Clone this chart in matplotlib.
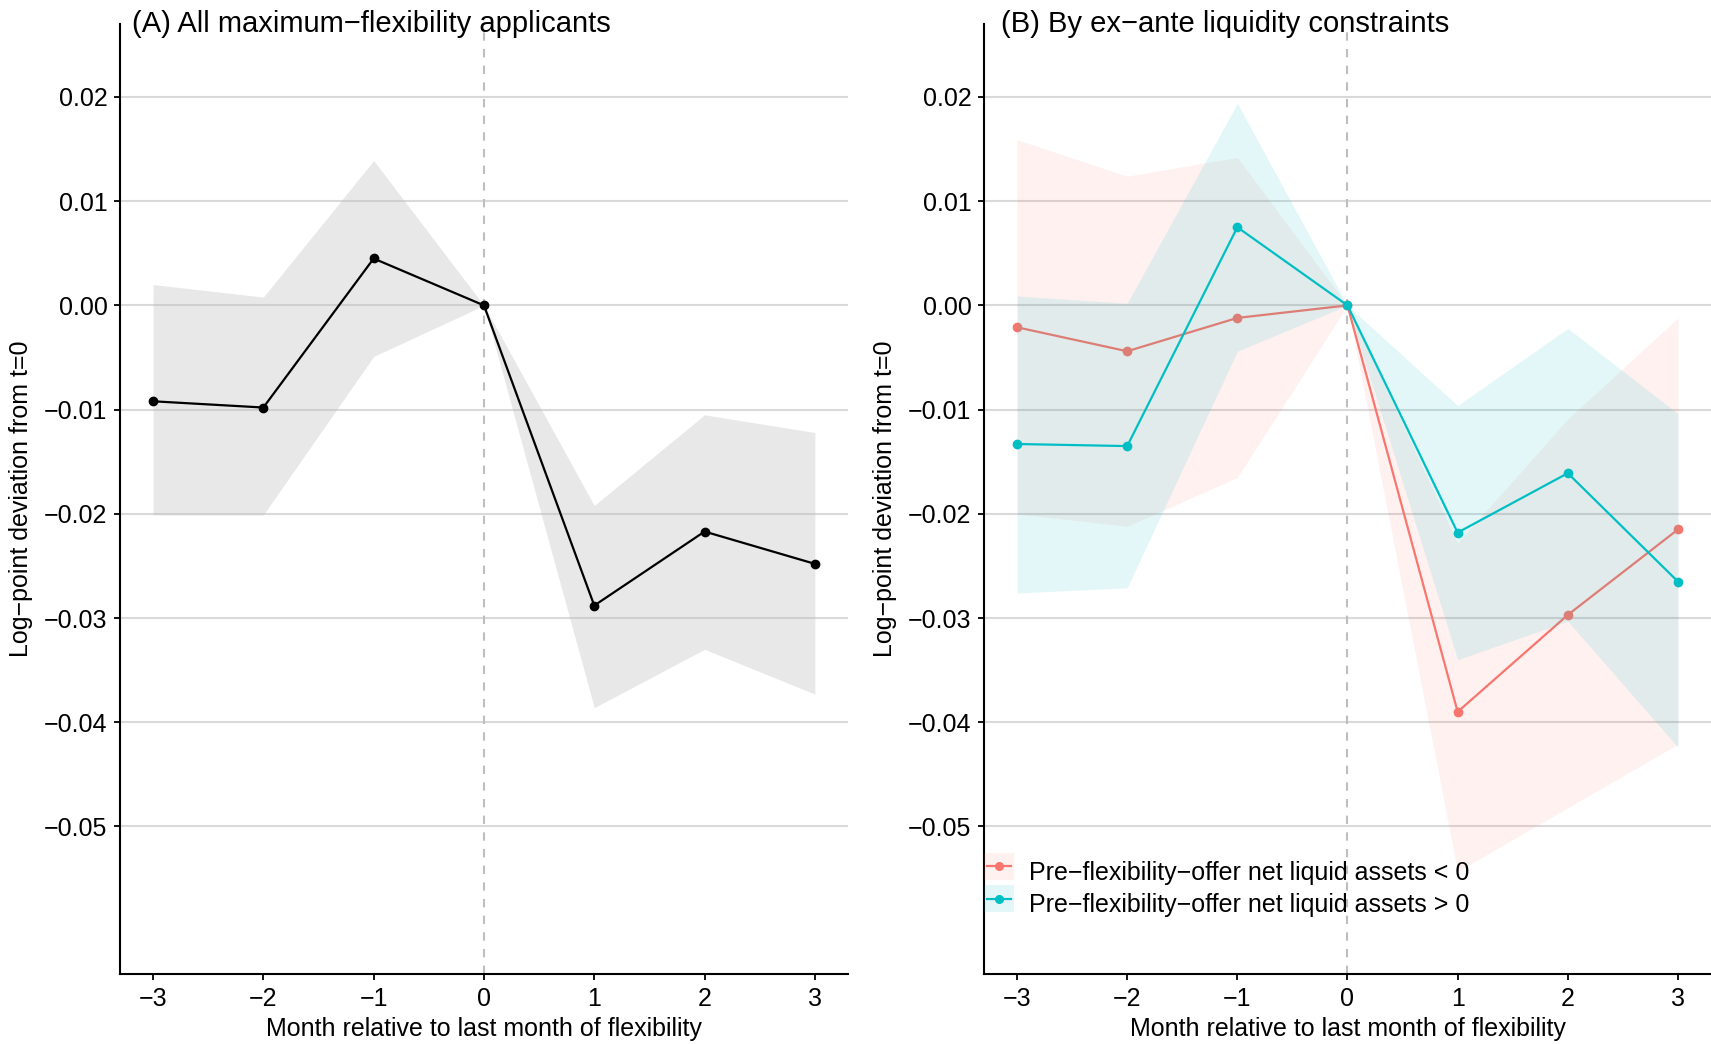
import numpy as np
import matplotlib
matplotlib.use("Agg")
import matplotlib.pyplot as plt
from matplotlib.patches import Rectangle
from matplotlib.lines import Line2D
from matplotlib.legend_handler import HandlerBase

plt.rcParams['font.family'] = ['Liberation Sans', 'DejaVu Sans']

# datos
meses = [-3, -2, -1, 0, 1, 2, 3]

# (A) todos los solicitantes
todos = [-0.0092, -0.0098, 0.0045, 0.0, -0.0288, -0.0217, -0.0248]
todos_sup = [0.0020, 0.0008, 0.0139, 0.0, -0.0192, -0.0105, -0.0122]
todos_inf = [-0.0201, -0.0201, -0.0049, 0.0, -0.0386, -0.0330, -0.0373]

# (B) activos liquidos < 0
neg = [-0.0021, -0.0044, -0.0012, 0.0, -0.0390, -0.0297, -0.0215]
neg_sup = [0.0159, 0.0124, 0.0142, 0.0, -0.0228, -0.0109, -0.0012]
neg_inf = [-0.0200, -0.0212, -0.0165, 0.0, -0.0543, -0.0482, -0.0421]

# (B) activos liquidos > 0
pos = [-0.0133, -0.0135, 0.0075, 0.0, -0.0218, -0.0161, -0.0265]
pos_sup = [0.0009, 0.0002, 0.0194, 0.0, -0.0096, -0.0022, -0.0104]
pos_inf = [-0.0276, -0.0271, -0.0044, 0.0, -0.0340, -0.0303, -0.0424]

titulos = ["(A) All maximum\u2212flexibility applicants", "(B) By ex\u2212ante liquidity constraints"]
etiquetas = ["Pre\u2212flexibility\u2212offer net liquid assets < 0",
             "Pre\u2212flexibility\u2212offer net liquid assets > 0"]

rojo = '#F8766D'
verde = '#00BFC4'
fs = 18


# clave de leyenda: fondo de la banda + linea con punto
class ClaveBanda(HandlerBase):
    def create_artists(self, legend, orig, x0, y0, width, height, fontsize, trans):
        color, alfa = orig.get_color(), orig.alfa
        fondo = Rectangle((x0, y0 - 0.1 * height), width, 1.2 * height, facecolor=color,
                          alpha=alfa, lw=0, transform=trans)
        linea = Line2D([x0 + 0.1 * width, x0 + 0.9 * width], [y0 + height / 2] * 2,
                       color=color, lw=1.6, transform=trans)
        punto = Line2D([x0 + width / 2], [y0 + height / 2], color=color, marker='o',
                       ms=5.5, lw=0, transform=trans)
        return [fondo, linea, punto]


fig = plt.figure(figsize=(17.11, 10.44), dpi=100)
ax1 = fig.add_axes([0.0701, 0.0666, 0.4255, 0.9104])
ax2 = fig.add_axes([0.5751, 0.0666, 0.4249, 0.9104])

for ax in (ax1, ax2):
    ax.set_xlim(-3.3, 3.3)
    ax.set_ylim(-0.0642, 0.0270)
    ax.set_yticks(np.arange(-0.05, 0.021, 0.01))
    ax.set_yticklabels([f"{v:.2f}".replace('-', '\u2212') for v in np.arange(-0.05, 0.021, 0.01)])
    ax.set_xticks(meses)
    ax.set_xticklabels([str(m).replace('-', '\u2212') for m in meses])
    for y in np.arange(-0.05, 0.021, 0.01):
        ax.axhline(y, color='#D9D9D9', lw=1.5, zorder=0)
    ax.axvline(0, color='#BEBEBE', lw=1.5, ls=(0, (4, 4)), zorder=0.5)
    ax.spines['top'].set_visible(False)
    ax.spines['right'].set_visible(False)
    ax.spines['left'].set_linewidth(1.5)
    ax.spines['bottom'].set_linewidth(1.5)
    ax.tick_params(labelsize=fs, length=4, width=1.3, pad=5, colors='black')
    ax.set_xlabel("Month relative to last month of flexibility", fontsize=fs, labelpad=4)
    ax.set_ylabel("Log\u2212point deviation from t=0", fontsize=fs, labelpad=8)

# panel A
ax1.fill_between(meses, todos_inf, todos_sup, color='#BEBEBE', alpha=0.35, lw=0, zorder=1)
ax1.plot(meses, todos, color='black', lw=1.6, marker='o', ms=6, zorder=3)
ax1.text(0.0165, 0.992, titulos[0], transform=ax1.transAxes, fontsize=21, va='baseline', ha='left')

# panel B
ax2.fill_between(meses, neg_inf, neg_sup, color=rojo, alpha=0.1, lw=0, zorder=1)
l_neg, = ax2.plot(meses, neg, color=rojo, lw=1.6, marker='o', ms=6, zorder=1.5)
ax2.fill_between(meses, pos_inf, pos_sup, color=verde, alpha=0.11, lw=0, zorder=2)
l_pos, = ax2.plot(meses, pos, color=verde, lw=1.6, marker='o', ms=6, zorder=3)
ax2.text(0.024, 0.992, titulos[1], transform=ax2.transAxes, fontsize=21, va='baseline', ha='left')

l_neg.alfa = 0.1
l_pos.alfa = 0.11
ax2.legend([l_neg, l_pos], etiquetas, handler_map={Line2D: ClaveBanda()},
           loc='upper left', bbox_to_anchor=(0.0, 0.12), frameon=False, fontsize=fs,
           handlelength=1.2, handleheight=1.0, handletextpad=0.62, borderpad=0, borderaxespad=0,
           labelspacing=0.3)

fig.savefig('out.png', dpi=100)
